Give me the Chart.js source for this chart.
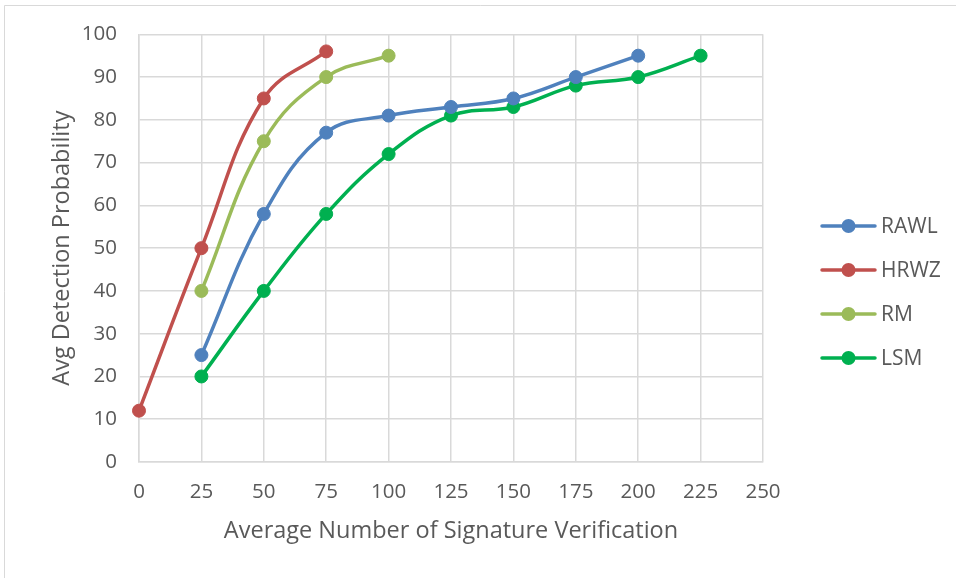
<!DOCTYPE html>
<html>
<head>
<meta charset="utf-8">
<script src="https://cdn.jsdelivr.net/npm/chart.js@4/dist/chart.umd.min.js"></script>
<style>
  html, body { margin: 0; padding: 0; background: #fff; }
  #wrap { position: relative; width: 956px; height: 578px; }
</style>
</head>
<body>
<div id="wrap"><canvas id="c" width="956" height="578"></canvas></div>
<script>
// Axis ranges
const xTicks = [0, 25, 50, 75, 100, 125, 150, 175, 200, 225, 250];
const yTicks = [0, 10, 20, 30, 40, 50, 60, 70, 80, 90, 100];

// Series: x = average number of signature verifications, y = avg detection probability
const seriesNames = ['RAWL', 'HRWZ', 'RM', 'LSM'];
const rawlX = [25, 50, 75, 100, 125, 150, 175, 200];
const rawlY = [25, 58, 77, 81, 83, 85, 90, 95];
const hrwzX = [0, 25, 50, 75];
const hrwzY = [12, 50, 85, 96];
const rmX = [25, 50, 75, 100];
const rmY = [40, 75, 90, 95];
const lsmX = [25, 50, 75, 100, 125, 150, 175, 200, 225];
const lsmY = [20, 40, 58, 72, 81, 83, 88, 90, 95];

const seriesColors = ['#4F81BD', '#C0504D', '#9BBB59', '#00B050'];
const seriesXs = [rawlX, hrwzX, rmX, lsmX];
const seriesYs = [rawlY, hrwzY, rmY, lsmY];

const FONT = '"Open Sans", sans-serif';
const TEXT = '#595959';
const GRID = '#D9D9D9';

const datasets = seriesNames.map((name, i) => ({
  label: name,
  data: seriesXs[i].map((x, k) => ({ x: x, y: seriesYs[i][k] })),
  borderColor: seriesColors[i],
  backgroundColor: seriesColors[i],
  borderWidth: 3.5,
  pointRadius: 6.5,
  pointHoverRadius: 6.5,
  pointBorderWidth: 1,
  tension: 0.4,
  clip: false
}));

// Outer frame (top and left edges of the chart box)
const framePlugin = {
  id: 'frame',
  beforeDraw(chart) {
    const ctx = chart.ctx;
    ctx.save();
    ctx.fillStyle = '#fff';
    ctx.fillRect(0, 0, chart.width, chart.height);
    ctx.strokeStyle = GRID;
    ctx.lineWidth = 1;
    ctx.beginPath();
    ctx.moveTo(4.5, chart.height);
    ctx.lineTo(4.5, 5.5);
    ctx.lineTo(chart.width, 5.5);
    ctx.stroke();
    ctx.restore();
  }
};

// Legend on the right: short line with a marker, then the series name
const sideLegend = {
  id: 'sideLegend',
  afterDraw(chart) {
    const ctx = chart.ctx;
    ctx.save();
    ctx.font = '21px ' + FONT;
    ctx.textBaseline = 'middle';
    ctx.textAlign = 'left';
    chart.data.datasets.forEach((ds, i) => {
      const y = 226 + i * 44;
      ctx.strokeStyle = ds.borderColor;
      ctx.lineWidth = 3.5;
      ctx.lineCap = 'round';
      ctx.beginPath();
      ctx.moveTo(822, y);
      ctx.lineTo(875, y);
      ctx.stroke();
      ctx.fillStyle = ds.backgroundColor;
      ctx.beginPath();
      ctx.arc(848.5, y, 7, 0, Math.PI * 2);
      ctx.fill();
      ctx.fillStyle = TEXT;
      ctx.fillText(ds.label, 881, y + 1);
    });
    ctx.restore();
  }
};

new Chart(document.getElementById('c'), {
  type: 'line',
  data: { datasets: datasets },
  options: {
    responsive: false,
    animation: false,
    events: [],
    layout: { padding: { left: 0, top: 34, right: 193, bottom: 0 } },
    plugins: { legend: { display: false }, tooltip: { enabled: false } },
    scales: {
      x: {
        type: 'linear',
        min: 0, max: 250,
        afterBuildTicks(scale) { scale.ticks = xTicks.map(v => ({ value: v })); },
        afterFit(scale) { scale.height = 116; },
        ticks: { color: TEXT, font: { family: FONT, size: 20.5 }, padding: 18, maxRotation: 0 },
        grid: { color: GRID, lineWidth: 1.5, drawTicks: false },
        border: { color: GRID, width: 1.5 },
        title: {
          display: true,
          text: 'Average Number of Signature Verification',
          color: TEXT,
          font: { family: FONT, size: 23.5 },
          padding: { top: 0, bottom: 33 }
        }
      },
      y: {
        type: 'linear',
        min: 0, max: 100,
        afterBuildTicks(scale) { scale.ticks = yTicks.map(v => ({ value: v })); },
        afterFit(scale) { scale.width = 139; },
        ticks: { color: TEXT, font: { family: FONT, size: 20.5 }, padding: 22 },
        grid: { color: GRID, lineWidth: 1.5, drawTicks: false },
        border: { color: GRID, width: 1.5 },
        title: {
          display: true,
          text: 'Avg Detection Probability',
          color: TEXT,
          font: { family: FONT, size: 23.5 },
          padding: { top: 48, bottom: 0 }
        }
      }
    }
  },
  plugins: [framePlugin, sideLegend]
});
</script>
</body>
</html>
